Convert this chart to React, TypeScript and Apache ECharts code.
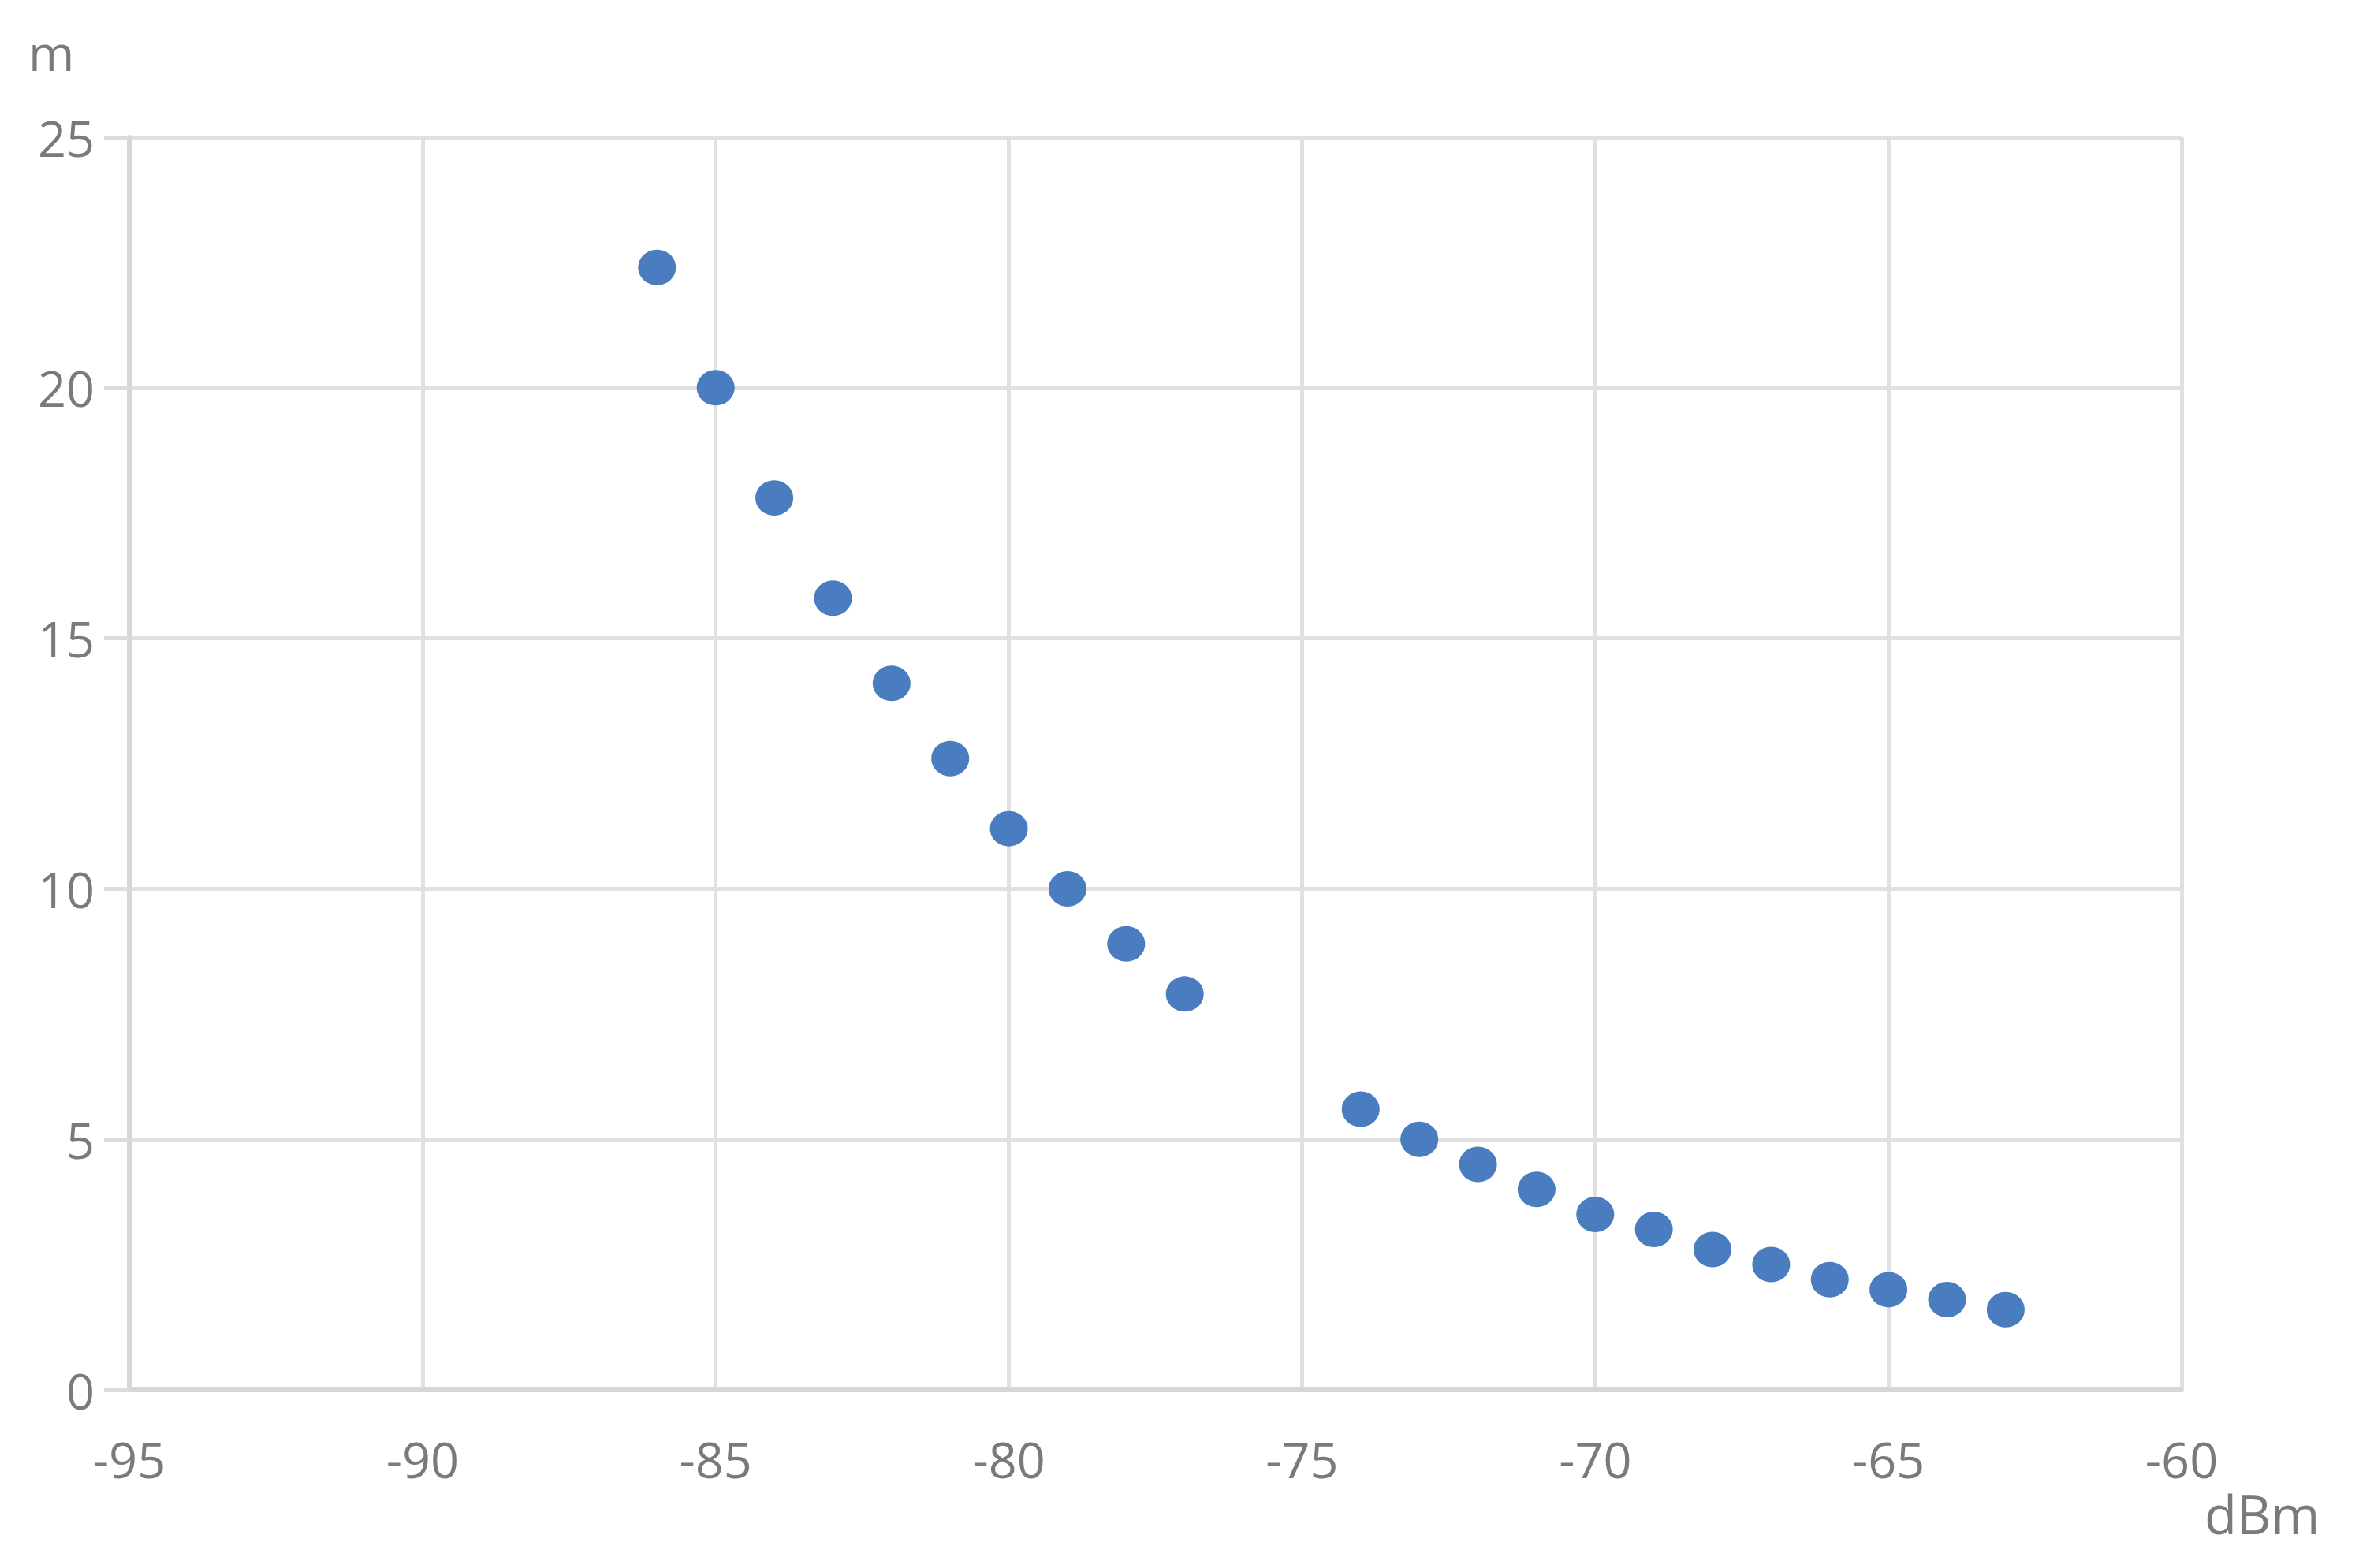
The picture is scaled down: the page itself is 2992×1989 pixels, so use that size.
import React, { useEffect, useRef } from "react";
import * as echarts from "echarts";

const rssi = [-86, -85, -84, -83, -82, -81, -80, -79, -78, -77, -74, -73, -72, -71, -70, -69, -68, -67, -66, -65, -64, -63];
const distance = [22.4, 20.0, 17.8, 15.8, 14.1, 12.6, 11.2, 10.0, 8.9, 7.9, 5.6, 5.0, 4.5, 4.0, 3.5, 3.2, 2.8, 2.5, 2.2, 2.0, 1.8, 1.6];
const yUnit = "m";
const xUnit = "dBm";

export default function App() {
  const ref = useRef<HTMLDivElement>(null);
  useEffect(() => {
    document.body.style.margin = "0";
    const chart = echarts.init(ref.current!, null, { renderer: "svg" });
    const textColor = "#7a7a7a";
    const font = "Open Sans";
    const fs = 63;
    chart.setOption({
      animation: false,
      backgroundColor: "#ffffff",
      grid: { left: 164, right: 225, top: 174, bottom: 226, containLabel: false },
      xAxis: {
        type: "value",
        min: -95,
        max: -60,
        interval: 5,
        axisLine: { show: true, onZero: false, lineStyle: { color: "#d6d6d6", width: 6 } },
        axisTick: { show: false },
        axisLabel: { color: textColor, fontSize: fs, fontFamily: font, margin: 56 },
        splitLine: { show: true, lineStyle: { color: "#e0e0e0", width: 5 } },
      },
      yAxis: {
        type: "value",
        min: 0,
        max: 25,
        interval: 5,
        axisLine: { show: true, onZero: false, lineStyle: { color: "#d6d6d6", width: 6 } },
        axisTick: { show: true, length: 32, lineStyle: { color: "#dcdcdc", width: 5 } },
        axisLabel: { color: textColor, fontSize: fs, fontFamily: font, margin: 44 },
        splitLine: { show: true, lineStyle: { color: "#e0e0e0", width: 5 } },
      },
      graphic: [
        { type: "text", left: 36, top: 34, style: { text: yUnit, fill: textColor, font: `${fs}px "${font}"` } },
        { type: "text", left: 2796, top: 1886, style: { text: xUnit, fill: textColor, font: `${fs + 4}px "${font}"` } },
      ],
      series: [
        {
          type: "scatter",
          data: rssi.map((x, i) => [x, distance[i]]),
          symbol: "circle",
          symbolSize: [48, 45],
          itemStyle: { color: "#4a7dbf", opacity: 1 },
        },
      ],
    });
    return () => chart.dispose();
  }, []);
  return <div ref={ref} style={{ width: 2992, height: 1989 }} />;
}
